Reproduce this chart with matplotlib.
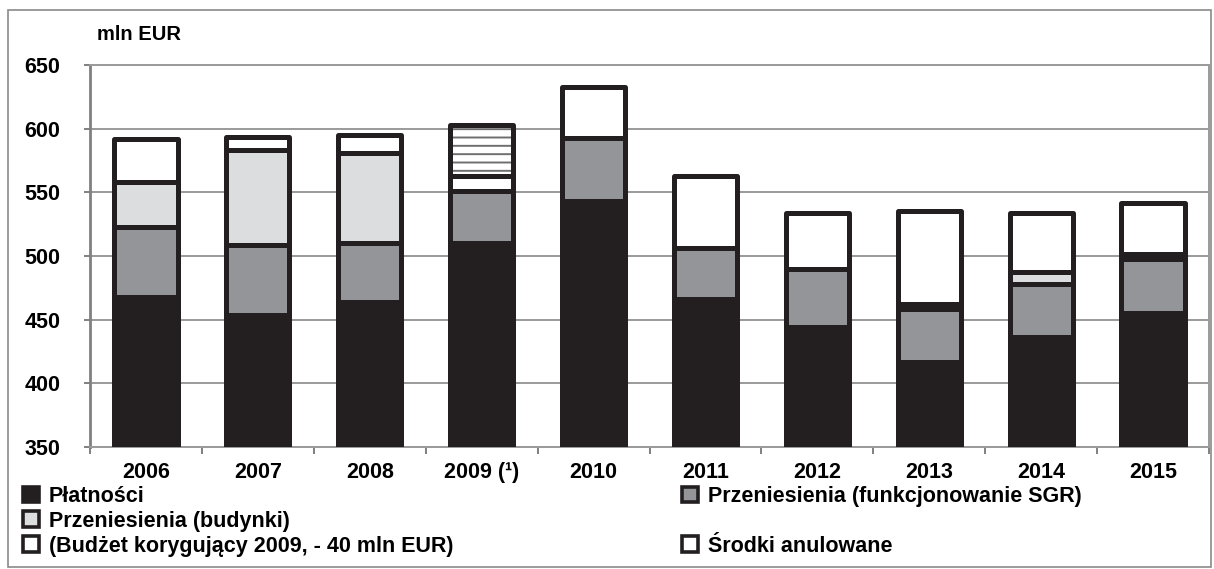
import matplotlib
matplotlib.use("Agg")
import matplotlib.pyplot as plt
from matplotlib.patches import Patch, Rectangle
import numpy as np

# values (mln EUR)
years = ["2006", "2007", "2008", "2009 (\u00b9)", "2010",
         "2011", "2012", "2013", "2014", "2015"]
platnosci = [468, 454, 464, 510, 543, 466, 444, 417, 436, 455]
sgr = [55, 54.5, 46.5, 41, 49.5, 40.5, 45.5, 41, 42, 42.5]
budynki = [35, 75, 70, 0, 0, 0, 0, 4, 9.8, 4]
anulowane = [34, 10, 14.5, 12, 40.5, 56, 44, 73.2, 45.8, 40]
budzet_kor = [0, 0, 0, 40, 0, 0, 0, 0, 0, 0]

labels = ["Płatności", "Przeniesienia (funkcjonowanie SGR)",
          "Przeniesienia (budynki)", "(Budżet korygujący 2009, - 40 mln EUR)",
          "Środki anulowane"]

BLACK = "#231f20"
GRAY = "#939598"
LIGHT = "#dcdddf"
GRID = "#9a9a9a"
FS = 15.5

plt.rcParams["font.family"] = ["Liberation Sans", "DejaVu Sans"]
plt.rcParams["hatch.linewidth"] = 1.4

fig = plt.figure(figsize=(12.14, 5.69), dpi=100)
ax = fig.add_axes([90 / 1214, 1 - 447 / 569, 1119 / 1214, 382 / 569])

x = np.arange(len(years))
w = 0.565
lw = 3.6
kw = dict(width=w, edgecolor=BLACK, linewidth=lw, joinstyle="round", zorder=3)

b0 = np.zeros(len(years))
ax.bar(x, platnosci, bottom=b0, color=BLACK, **kw)
b1 = b0 + np.array(platnosci)
ax.bar(x, sgr, bottom=b1, color=GRAY, **kw)
b2 = b1 + np.array(sgr)
ax.bar(x, budynki, bottom=b2, color=LIGHT, **kw)
b3 = b2 + np.array(budynki)
ax.bar(x, anulowane, bottom=b3, color="white", **kw)
b4 = b3 + np.array(anulowane)
hv = np.array(budzet_kor) > 0
# hatched segment: gray hatch first, then black outline on top
ax.bar(x[hv], np.array(budzet_kor)[hv], bottom=b4[hv], width=w, color="white",
       edgecolor="#6f6f6f", linewidth=0, hatch="--", zorder=3)
ax.bar(x[hv], np.array(budzet_kor)[hv], bottom=b4[hv], width=w, fill=False,
       edgecolor=BLACK, linewidth=lw, joinstyle="round", zorder=4)

ax.set_ylim(350, 650)
ax.set_xlim(-0.5, len(years) - 0.5)
ax.set_yticks(np.arange(350, 651, 50))
ax.set_axisbelow(True)
ax.yaxis.grid(True, color=GRID, linewidth=1.4)
for s in ax.spines.values():
    s.set_color(GRID)
    s.set_linewidth(1.4)
ax.spines["left"].set_color("#808080")
ax.spines["left"].set_linewidth(2)

ax.tick_params(axis="y", direction="out", length=4, width=1.4, color="#808080",
               pad=17.5, labelsize=FS)
ax.set_xticks(x)
ax.set_xticklabels(years)
ax.set_xticks(np.arange(-0.5, len(years)), minor=True)
ax.tick_params(axis="x", which="major", length=0, pad=11, labelsize=FS)
ax.tick_params(axis="x", which="minor", direction="out", length=5, width=1.4,
               color="#808080")
for t in ax.get_xticklabels() + ax.get_yticklabels():
    t.set_fontweight("bold")

fig.text(97 / 1214, 1 - 35 / 569, "mln EUR", fontsize=14.5, fontweight="bold",
         va="center", ha="left")

def handle(fc):
    return Patch(facecolor=fc, edgecolor=BLACK, linewidth=2.6, joinstyle="round")

col1 = [handle(BLACK), handle(LIGHT), handle("white")]
lab1 = [labels[0], labels[2], labels[3]]
col2 = [handle(GRAY), Patch(facecolor="none", edgecolor="none"), handle("white")]
lab2 = [labels[1], " ", labels[4]]
leg_kw = dict(loc="upper left", frameon=False, borderpad=0, borderaxespad=0,
              handlelength=0.75, handleheight=0.75, handletextpad=0.45,
              labelspacing=0.18, prop={"weight": "bold", "size": FS})
fig.legend(col1, lab1, bbox_to_anchor=(23 / 1214, 1 - 486 / 569), **leg_kw)
fig.legend(col2, lab2, bbox_to_anchor=(682 / 1214, 1 - 486 / 569), **leg_kw)

fig.patches.append(Rectangle((8 / 1214, 2 / 569), 1203 / 1214, 557 / 569,
                             transform=fig.transFigure, fill=False,
                             edgecolor="#8a8a8a", linewidth=1.2))

fig.savefig("out.png", dpi=100)
